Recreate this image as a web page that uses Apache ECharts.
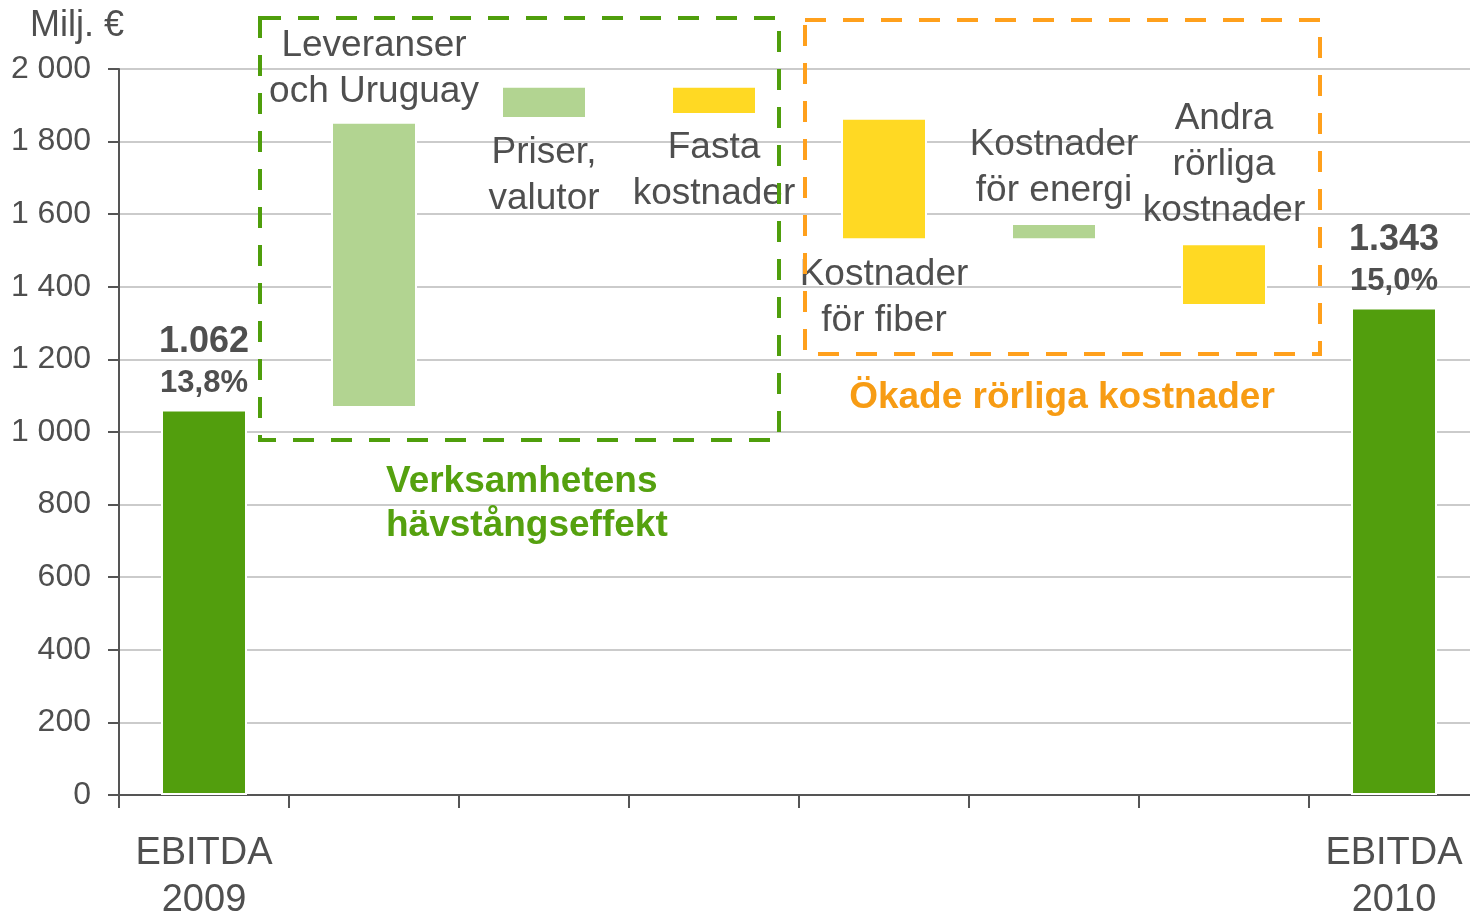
<!DOCTYPE html>
<html>
<head>
<meta charset="utf-8">
<script src="https://cdn.jsdelivr.net/npm/echarts@6/dist/echarts.min.js"></script>
<style>
  html, body { margin: 0; padding: 0; background: #fff; }
  #main { width: 1470px; height: 915px; }
</style>
</head>
<body>
<div id="main"></div>
<script>
// kategorier (bara första och sista visas på axeln)
var categories = ['EBITDA\n2009', 'Leveranser\noch Uruguay', 'Priser,\nvalutor', 'Fasta\nkostnader',
  'Kostnader\nför fiber', 'Kostnader\nför energi', 'Andra\nrörliga\nkostnader', 'EBITDA\n2010'];
// stapelns nedre och övre kant, Milj. €
var lows  = [0,    1066, 1862, 1873, 1528, 1528, 1347, 0];
var highs = [1062, 1855, 1954, 1954, 1866, 1576, 1520, 1343];
// typ: summa, ökning, minskning
var kinds = ['total', 'inc', 'inc', 'dec', 'dec', 'inc', 'dec', 'total'];
var ebitdaValues = ['1.062', '1.343'];
var ebitdaMargins = ['13,8%', '15,0%'];
var yTicks = [0, 200, 400, 600, 800, 1000, 1200, 1400, 1600, 1800, 2000];

var FONT = '"Liberation Sans", Arial, sans-serif';
var GREY = '#4f4f4f';
var colors = { total: '#529e0d', inc: '#b2d491', dec: '#ffd923' };

var chart = echarts.init(document.getElementById('main'));

// etikettens sida och avstånd per stapel
var labelSide = ['top', 'top', 'bottom', 'bottom', 'bottom', 'top', 'top', 'top'];
var labelDist = [6, 7, 11, 10, 11, 9, 9, 6];

var visible = categories.map(function (c, i) {
  var item = {
    value: highs[i] - lows[i],
    itemStyle: { color: colors[kinds[i]] },
    label: {
      show: true,
      position: labelSide[i],
      distance: labelDist[i],
      color: GREY,
      fontFamily: FONT,
      fontSize: 37,
      lineHeight: 46,
      align: 'center'
    }
  };
  if (kinds[i] === 'total') {
    var k = i === 0 ? 0 : 1;
    item.label.formatter = '{v|' + ebitdaValues[k] + '}\n{p|' + ebitdaMargins[k] + '}';
    item.label.rich = {
      v: { fontFamily: FONT, fontWeight: 'bold', fontSize: 36, lineHeight: 42, color: GREY },
      p: { fontFamily: FONT, fontWeight: 'bold', fontSize: 31, lineHeight: 40, color: GREY }
    };
  } else {
    item.label.formatter = c;
  }
  return item;
});

var options = {
  animation: false,
  grid: { left: 119, top: 69, width: 1360, height: 726, containLabel: false, outerBoundsMode: 'none' },
  xAxis: [{
    type: 'category',
    data: categories,
    boundaryGap: true,
    axisLine: { lineStyle: { color: '#555', width: 2 } },
    axisTick: { show: true, length: 13, alignWithLabel: false, lineStyle: { color: '#555', width: 2 } },
    axisLabel: {
      interval: 0,
      margin: 35,
      color: GREY,
      fontFamily: FONT,
      fontSize: 38,
      lineHeight: 47,
      formatter: function (v, i) {
        return (i === 0 || i === categories.length - 1) ? v : '';
      }
    },
    splitLine: { show: false }
  }],
  yAxis: [{
    type: 'value',
    min: yTicks[0],
    max: yTicks[yTicks.length - 1],
    interval: 200,
    axisLine: { show: true, lineStyle: { color: '#555', width: 2 } },
    axisTick: { show: true, length: 11, lineStyle: { color: '#555', width: 2 } },
    axisLabel: {
      margin: 28,
      color: GREY,
      fontFamily: FONT,
      fontSize: 32,
      formatter: function (v) {
        return String(v).replace(/\B(?=(\d{3})+(?!\d))/g, ' ');
      }
    },
    splitLine: { show: true, lineStyle: { color: '#cbcbcb', width: 2 } }
  }],
  series: [{
    name: 'bas',
    type: 'bar',
    stack: 'w',
    barWidth: 86,
    silent: true,
    itemStyle: { color: 'transparent' },
    data: lows
  }, {
    name: 'värde',
    type: 'bar',
    stack: 'w',
    barWidth: 86,
    itemStyle: { borderColor: '#fff', borderWidth: 2 },
    data: visible
  }],
  graphic: [
    { type: 'text', left: 30, top: 8, style: { text: 'Milj. €', fill: GREY, font: '36px ' + FONT } },
    {
      type: 'rect', z: 10,
      shape: { x: 260, y: 18, width: 519, height: 422 },
      style: { fill: 'none', stroke: '#4f9e0c', lineWidth: 4, lineDash: [21, 17] }
    },
    {
      type: 'rect', z: 10,
      shape: { x: 805, y: 20, width: 515, height: 334 },
      style: { fill: 'none', stroke: '#ffa01c', lineWidth: 4, lineDash: [21, 17] }
    },
    {
      type: 'text', left: 386, top: 460, z: 10,
      style: { text: 'Verksamhetens\nhävstångseffekt', fill: '#55a10f', font: 'bold 37px ' + FONT, lineHeight: 44 }
    },
    {
      type: 'text', x: 1062, y: 398, z: 10,
      style: { text: 'Ökade rörliga kostnader', fill: '#f79c14', font: 'bold 37px ' + FONT, align: 'center', verticalAlign: 'middle' }
    }
  ]
};

chart.setOption(options);
</script>
</body>
</html>
